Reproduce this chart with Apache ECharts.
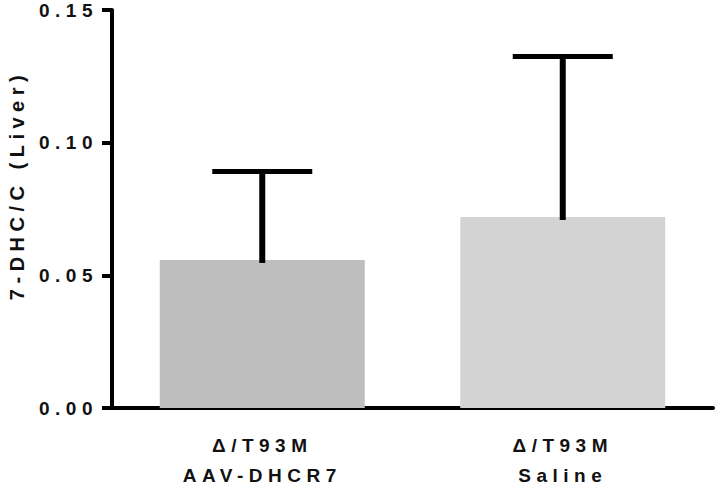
<!DOCTYPE html>
<html>
<head>
<meta charset="utf-8">
<script src="https://cdn.jsdelivr.net/npm/echarts@6/dist/echarts.min.js"></script>
<style>
  html, body { margin: 0; padding: 0; background: #fff; }
  #chart { width: 716px; height: 488px; letter-spacing: 5.5px; }
</style>
</head>
<body>
<div id="chart"></div>
<script>
const categories = ['\u0394/T93M\nAAV-DHCR7', '\u0394/T93M\nSaline'];
const means = [0.0558, 0.0720];
const sds = [0.0333, 0.0605];
const yTicks = [0, 0.05, 0.10, 0.15];
const barColors = ['#bebebe', '#d3d3d3'];

const chart = echarts.init(document.getElementById('chart'), null, { renderer: 'svg' });
const font = '"Liberation Sans", Arial, sans-serif';

chart.setOption({
  animation: false,
  grid: { left: 112, right: 3, top: 10, bottom: 80, outerBoundsMode: 'none', containLabel: false },
  xAxis: {
    type: 'category',
    data: categories,
    boundaryGap: true,
    axisLine: { lineStyle: { color: '#000', width: 4 } },
    axisTick: { alignWithLabel: true, length: 11, lineStyle: { color: '#000', width: 4 } },
    axisLabel: { color: '#111', fontFamily: font, fontWeight: 'bold', fontSize: 19, lineHeight: 30, margin: 22 }
  },
  yAxis: {
    type: 'value',
    min: yTicks[0],
    max: yTicks[yTicks.length - 1],
    interval: yTicks[1] - yTicks[0],
    name: '7-DHC/C (Liver)',
    nameLocation: 'middle',
    nameRotate: 90,
    nameGap: 85,
    nameTextStyle: { color: '#111', fontFamily: font, fontWeight: 'bold', fontSize: 20, padding: [0, 0, 0, 48] },
    splitLine: { show: false },
    axisLine: { show: true, lineStyle: { color: '#000', width: 4 } },
    axisTick: { show: true, length: 10, lineStyle: { color: '#000', width: 4 } },
    axisLabel: { color: '#111', fontFamily: font, fontWeight: 'bold', fontSize: 19, margin: 14,
      formatter: v => v.toFixed(2) }
  },
  series: [
    {
      type: 'bar',
      data: means.map((m, i) => ({ value: m, itemStyle: { color: barColors[i] } })),
      barWidth: 205,
      z: 2
    },
    {
      type: 'custom',
      z: 3,
      data: means.map((m, i) => [i, m, m + sds[i]]),
      renderItem: function (params, api) {
        const lo = api.coord([api.value(0), api.value(1)]);
        const hi = api.coord([api.value(0), api.value(2)]);
        const half = 50;
        return {
          type: 'group',
          children: [
            { type: 'line', shape: { x1: lo[0], y1: lo[1] + 3, x2: hi[0], y2: hi[1] },
              style: { stroke: '#000', lineWidth: 6 } },
            { type: 'line', shape: { x1: hi[0] - half, y1: hi[1], x2: hi[0] + half, y2: hi[1] },
              style: { stroke: '#000', lineWidth: 5 } }
          ]
        };
      }
    }
  ]
});
</script>
</body>
</html>
